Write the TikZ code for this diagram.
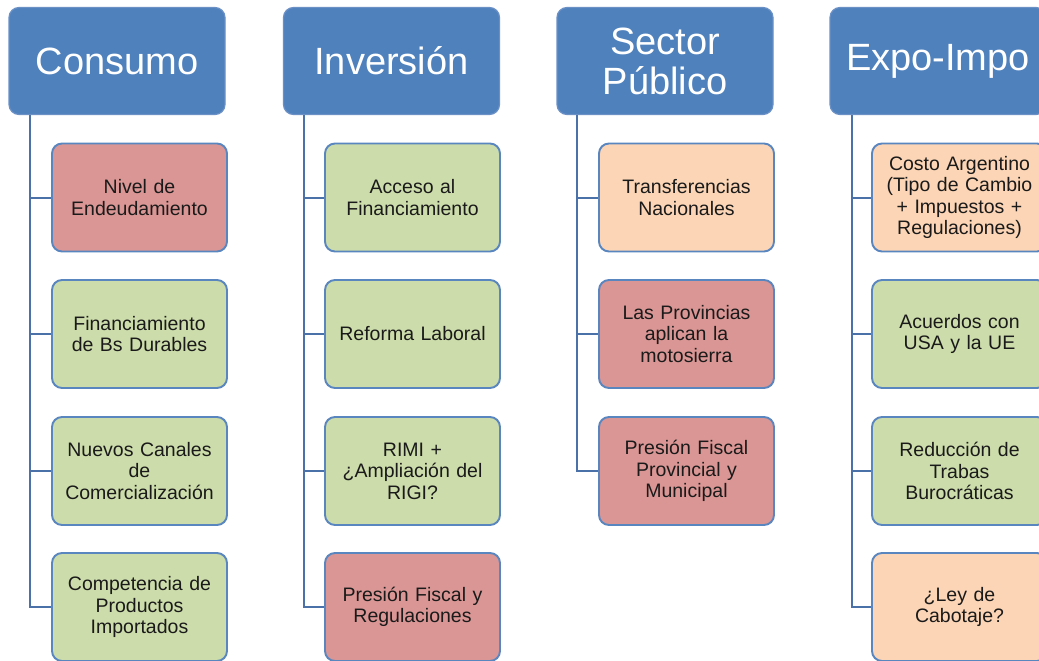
\documentclass[tikz,border=0pt]{standalone}
\usepackage{fontspec}
\setmainfont{Liberation Sans}
\definecolor{hdrblue}{HTML}{4F81BD}
\definecolor{hdrline}{HTML}{6A90C6}
\definecolor{boxline}{HTML}{5A86C0}
\definecolor{connline}{HTML}{4A72A8}
\definecolor{pinkfill}{HTML}{D99694}
\definecolor{greenfill}{HTML}{CCDCAA}
\definecolor{peachfill}{HTML}{FBD5B5}
\definecolor{txtdark}{HTML}{1A1A1A}
\tikzset{
  hdr/.style={draw=hdrline, line width=1.2pt, fill=hdrblue, rounded corners=10pt,
    minimum width=216pt, minimum height=107pt, inner sep=2pt, align=center,
    text=white, font=\fontsize{38}{40}\selectfont},
  child/.style={draw=boxline, line width=1.9pt, rounded corners=10pt,
    minimum width=175pt, minimum height=108pt, inner sep=2pt, align=center,
    text width=170pt, text=txtdark, font=\fontsize{19.5}{21.5}\selectfont},
  pinkbox/.style={child, fill=pinkfill},
  greenbox/.style={child, fill=greenfill},
  peachbox/.style={child, fill=peachfill},
  conn/.style={draw=connline, line width=2pt}
}
\begin{document}
\begin{tikzpicture}[x=1pt,y=-1pt]
\useasboundingbox (0,0) rectangle (1039,661);
\clip (0,0) rectangle (1039,661);
\fill[white] (0,0) rectangle (1039,661);
% headers
\node[hdr] (h1) at (117,61) {Consumo};
\node[hdr] (h2) at (391.5,61) {Inversión};
\node[hdr] (h3) at (665,61) {Sector\\Público};
\node[hdr] (h4) at (938,61) {Expo-Impo};
% trunk starts
\coordinate (t1) at (30,115);
\coordinate (t2) at (304,115);
\coordinate (t3) at (577,115);
\coordinate (t4) at (852,115);
% column 1
\node[pinkbox]  (c11) at (139.5,197.5) {Nivel de\\Endeudamiento};
\node[greenbox] (c12) at (139.5,334) {Financiamiento\\de Bs Durables};
\node[greenbox] (c13) at (139.5,471) {Nuevos Canales\\de\\Comercialización};
\node[greenbox] (c14) at (139.5,607) {Competencia de\\Productos\\Importados};
% column 2
\node[greenbox] (c21) at (412.5,197.5) {Acceso al\\Financiamiento};
\node[greenbox] (c22) at (412.5,334) {Reforma Laboral};
\node[greenbox] (c23) at (412.5,471) {RIMI +\\¿Ampliación del\\RIGI?};
\node[pinkbox]  (c24) at (412.5,607) {Presión Fiscal y\\Regulaciones};
% column 3
\node[peachbox] (c31) at (686.5,197.5) {Transferencias\\Nacionales};
\node[pinkbox]  (c32) at (686.5,334) {Las Provincias\\aplican la\\motosierra};
\node[pinkbox]  (c33) at (686.5,471) {Presión Fiscal\\Provincial y\\Municipal};
% column 4
\node[peachbox] (c41) at (959.5,197.5) {Costo Argentino\\(Tipo de Cambio\\+ Impuestos +\\Regulaciones)};
\node[greenbox] (c42) at (959.5,334) {Acuerdos con\\USA y la UE};
\node[greenbox] (c43) at (959.5,471) {Reducción de\\Trabas\\Burocráticas};
\node[peachbox] (c44) at (959.5,607) {¿Ley de\\Cabotaje?};
% connectors
\foreach \c in {1,...,4} {
  \draw[conn] (t1) |- (c1\c.west);
  \draw[conn] (t2) |- (c2\c.west);
  \draw[conn] (t4) |- (c4\c.west);
}
\foreach \c in {1,...,3} {
  \draw[conn] (t3) |- (c3\c.west);
}
\end{tikzpicture}
\end{document}
